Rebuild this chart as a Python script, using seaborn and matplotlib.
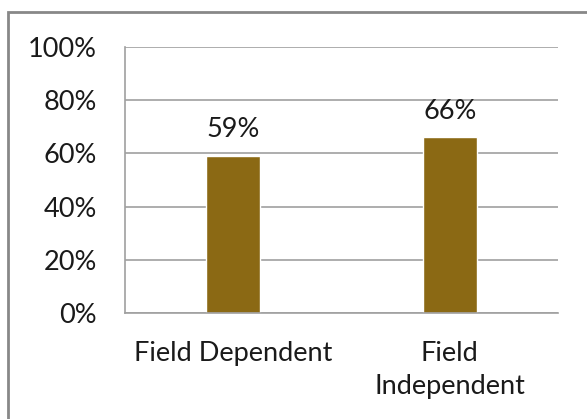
import matplotlib
matplotlib.use('Agg')
import matplotlib.pyplot as plt
import seaborn as sns
import pandas as pd
from matplotlib.patches import Rectangle
from matplotlib.ticker import PercentFormatter

# chart values
categories = ['Field Dependent', 'Field\nIndependent']
percentages = [59, 66]
y_ticks = [0, 20, 40, 60, 80, 100]

df = pd.DataFrame({'group': categories, 'pct': percentages})

sns.set_style('white')
plt.rcParams['font.family'] = ['Lato', 'DejaVu Sans']

fig = plt.figure(figsize=(5.87, 4.19), dpi=100)
ax = fig.add_axes([125 / 587, 1 - 313 / 419, 433 / 587, 266 / 419])

sns.barplot(data=df, x='group', y='pct', color='#8B6914', width=0.25,
            saturation=1, ax=ax)

# data labels
for i, v in enumerate(percentages):
    ax.annotate(f'{v}%', (i, v), xytext=(0, 10), textcoords='offset points',
                ha='center', va='bottom', fontsize=19.5, color='#1a1a1a')

ax.set_ylim(0, 100)
ax.set_yticks(y_ticks)
ax.yaxis.set_major_formatter(PercentFormatter(decimals=0))
ax.set_xlim(-0.5, 1.5)
ax.set_xlabel('')
ax.set_ylabel('')

ax.grid(axis='y', color='#a0a0a0', linewidth=1.2)
ax.set_axisbelow(True)
for side in ['top', 'right']:
    ax.spines[side].set_visible(False)
for side in ['left', 'bottom']:
    ax.spines[side].set_color('#a0a0a0')
    ax.spines[side].set_linewidth(1.2)

ax.tick_params(axis='y', length=0, pad=20, labelsize=19.5, labelcolor='#1a1a1a')
ax.tick_params(axis='x', length=0, pad=20, labelsize=19.5, labelcolor='#1a1a1a')
for lbl in ax.get_xticklabels():
    lbl.set_multialignment('center')
    lbl.set_linespacing(1.4)

# outer chart frame
fig.patches.append(Rectangle((8 / 587, -0.1), 1.2, 1 - 12 / 419 + 0.1,
                             transform=fig.transFigure, fill=False,
                             edgecolor='#888888', linewidth=2))

fig.savefig('out.png', dpi=100)
